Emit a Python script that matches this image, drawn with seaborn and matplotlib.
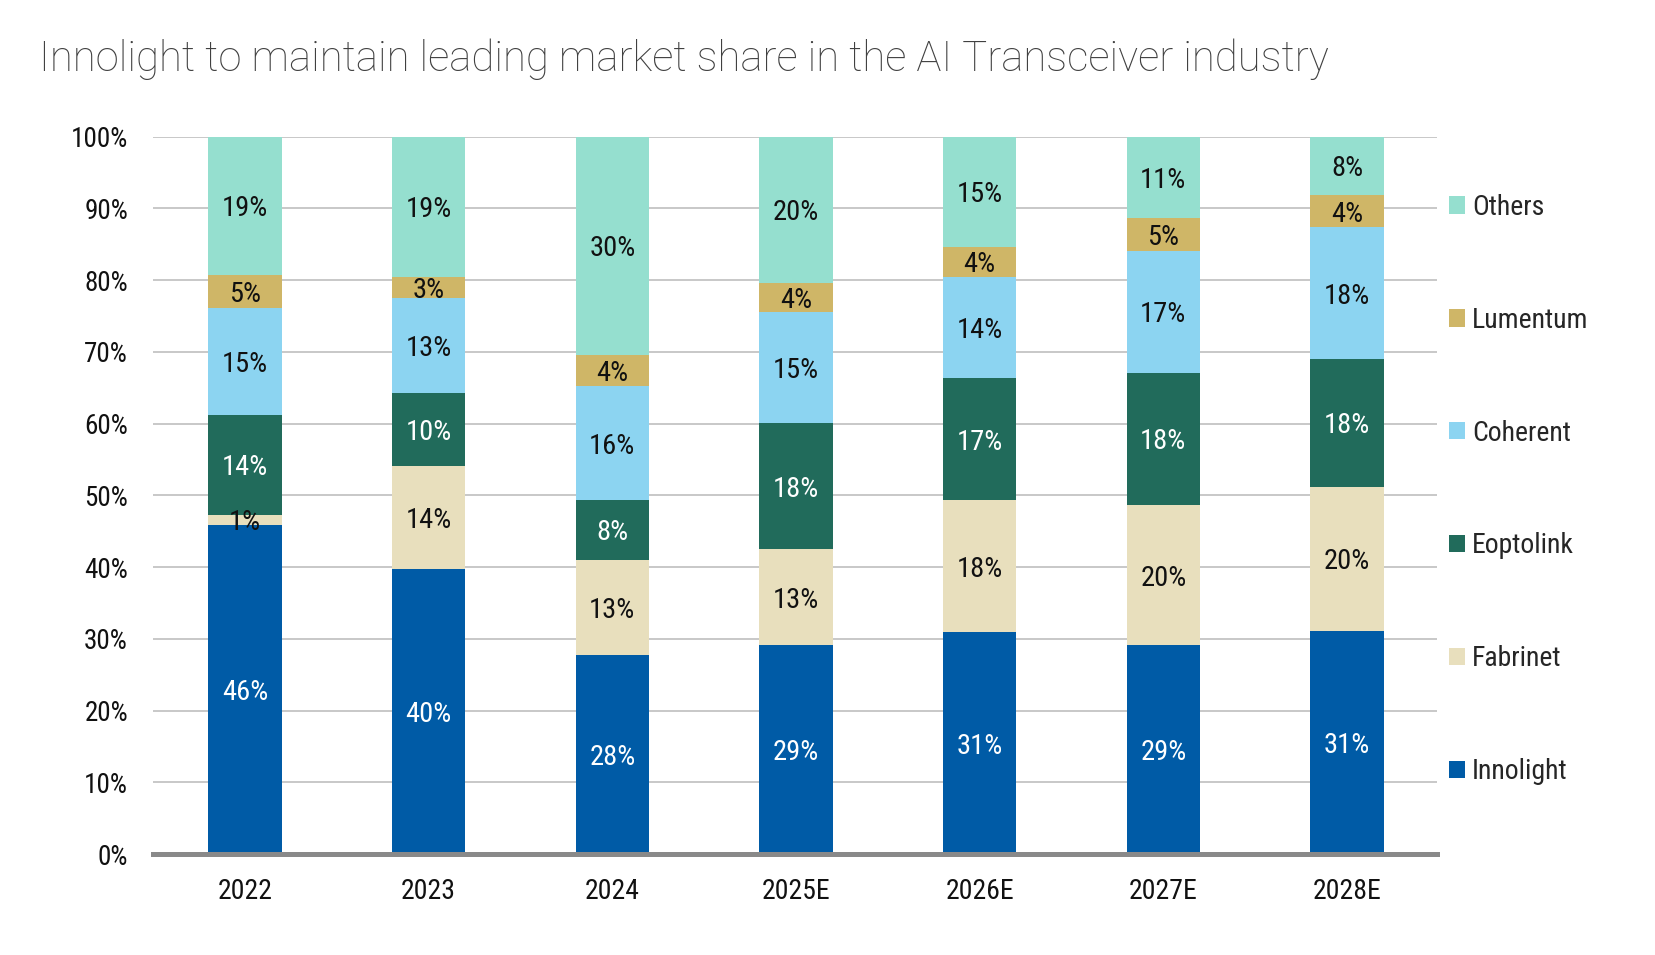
import matplotlib
matplotlib.use("Agg")
import matplotlib.pyplot as plt
from matplotlib import font_manager as fm
from matplotlib.patches import Patch
import seaborn as sns
import pandas as pd
import numpy as np

years = ["2022", "2023", "2024", "2025E", "2026E", "2027E", "2028E"]
series = ["Innolight", "Fabrinet", "Eoptolink", "Coherent", "Lumentum", "Others"]
innolight = [45.9, 39.7, 27.7, 29.1, 31.0, 29.1, 31.1]
fabrinet = [1.4, 14.4, 13.3, 13.4, 18.3, 19.6, 20.1]
eoptolink = [13.9, 10.1, 8.4, 17.6, 17.1, 18.4, 17.8]
coherent = [14.9, 13.3, 15.8, 15.4, 14.1, 17.0, 18.4]
lumentum = [4.6, 2.9, 4.4, 4.1, 4.1, 4.6, 4.4]
others = [19.3, 19.6, 30.4, 20.4, 15.4, 11.3, 8.2]
labels = [["46%", "40%", "28%", "29%", "31%", "29%", "31%"],
          ["1%", "14%", "13%", "13%", "18%", "20%", "20%"],
          ["14%", "10%", "8%", "18%", "17%", "18%", "18%"],
          ["15%", "13%", "16%", "15%", "14%", "17%", "18%"],
          ["5%", "3%", "4%", "4%", "4%", "5%", "4%"],
          ["19%", "19%", "30%", "20%", "15%", "11%", "8%"]]
title = "Innolight to maintain leading market share in the AI Transceiver industry"

colors = ["#005BA6", "#E8DFBD", "#216B5B", "#8CD4F1", "#CFB667", "#95DFCF"]
text_colors = ["white", "#111111", "white", "#111111", "#111111", "#111111"]

sns.set_theme(style="white")
names = {f.name for f in fm.fontManager.ttflist}
cond = next((n for n in ["Roboto Condensed", "Liberation Sans Narrow", "Roboto"] if n in names), "DejaVu Sans")
plt.rcParams["font.family"] = [cond, "DejaVu Sans"]

values = [innolight, fabrinet, eoptolink, coherent, lumentum, others]
df = pd.DataFrame({"year": years})
for name, v in zip(series, values):
    df[name] = v
cum = df[series].cumsum(axis=1)

fig = plt.figure(figsize=(16.56, 9.55), dpi=100)
ax = fig.add_axes([0.0924, 0.1055, 0.7754, 0.7515])

for i in range(len(series) - 1, -1, -1):
    sns.barplot(x=df["year"], y=cum[series[i]], color=colors[i], width=0.4,
                linewidth=0, edgecolor="none", saturation=1, ax=ax, zorder=2)

for i, s in enumerate(series):
    for j in range(len(years)):
        top = cum[s].iloc[j]
        mid = top - df[s].iloc[j] / 2
        ax.text(j, mid, labels[i][j], ha="center", va="center_baseline", fontsize=20.5,
                color=text_colors[i], zorder=5)

ax.set_ylim(0, 100)
ax.set_xlim(-0.5, 6.49)
ax.set_yticks(np.arange(0, 101, 10))
ax.set_yticklabels([f"{t}%" for t in range(0, 101, 10)])
ax.set_xlabel("")
ax.set_ylabel("")
ax.yaxis.grid(True, color="#BFBFBF", linewidth=1.2, zorder=0)
ax.set_axisbelow(True)
for sp in ["top", "right", "left"]:
    ax.spines[sp].set_visible(False)
ax.spines["bottom"].set_color("#898989")
ax.spines["bottom"].set_linewidth(3.6)
ax.spines["bottom"].set_zorder(6)
ax.tick_params(axis="y", length=0, pad=18, labelsize=19.5, labelcolor="#111111")
ax.tick_params(axis="x", length=0, pad=17, labelsize=20, labelcolor="#111111")

handles = [Patch(facecolor=colors[i], edgecolor="none", label=series[i]) for i in range(len(series) - 1, -1, -1)]
fig.legend(handles=handles, loc="upper left", bbox_to_anchor=(0.875, 0.797), frameon=False,
           fontsize=20, labelspacing=3.09, handlelength=0.58, handleheight=0.58,
           handletextpad=0.25, borderaxespad=0, borderpad=0)

fig.text(0.0235, 0.938, title, fontsize=30.2, color="#404040", ha="left", va="center",
         family=["Roboto", "DejaVu Sans"], fontweight="light")

fig.savefig("out.png", dpi=100)
